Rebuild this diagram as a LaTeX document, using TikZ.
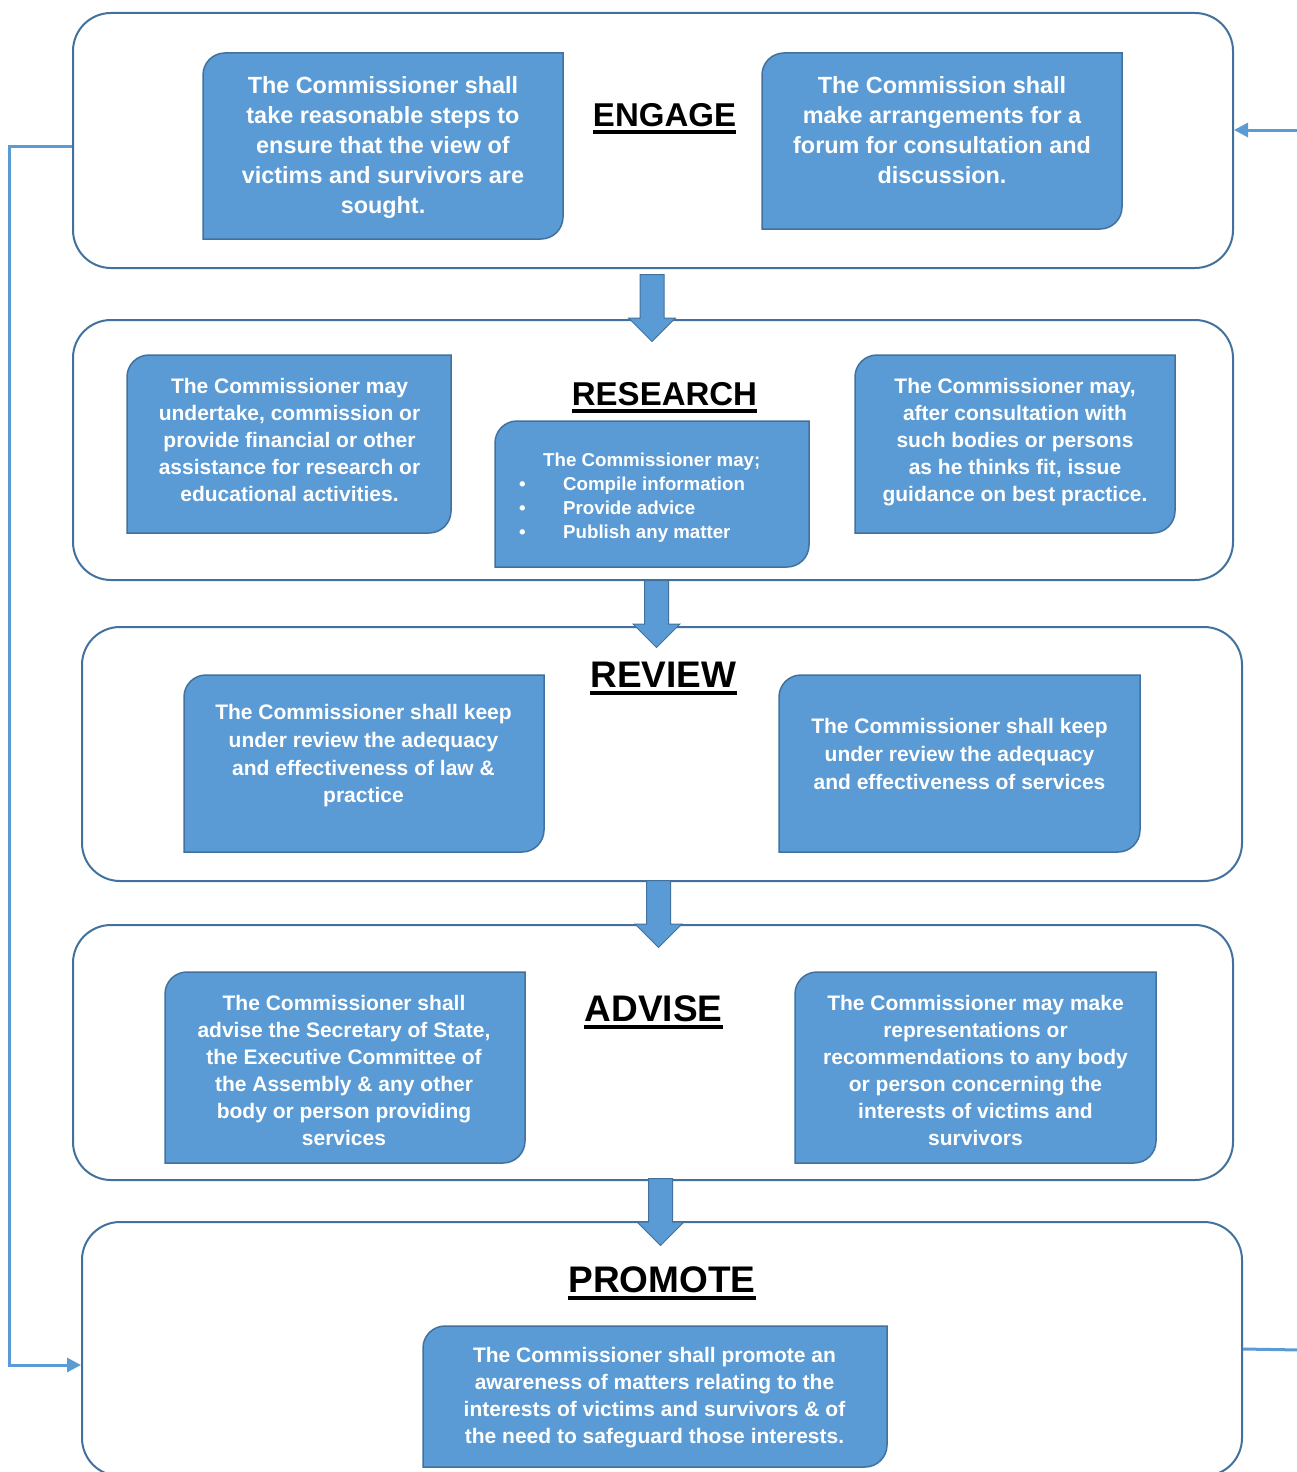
\documentclass[tikz,border=0pt]{standalone}
\usepackage{fontspec}
\setmainfont{Liberation Sans}
\usetikzlibrary{shapes.arrows,arrows.meta}
\definecolor{boxblue}{RGB}{91,155,213}
\definecolor{edgeblue}{RGB}{65,113,156}
\newcommand{\cornerbox}[4]{%
  \draw[bluebox] (#1,{(#2+#4)/2}) {[rounded corners=22pt] -- (#1,#2) -- ({(#1+#3)/2},#2)} -- (#3,#2) -- (#3,{(#2+#4)/2}) {[rounded corners=22pt] -- (#3,#4) -- ({(#1+#3)/2},#4)} -- (#1,#4) -- cycle;}

\begin{document}
\begin{tikzpicture}[x=1pt,y=-1pt,
  frame/.style={draw=edgeblue,line width=2pt,rounded corners=38pt,inner sep=0pt,minimum width=1160pt},
  bluebox/.style={fill=boxblue,draw=edgeblue,line width=1.5pt},
  boxtext/.style={text=white,align=center,inner sep=0pt,font=\bfseries\fontsize{21}{27}\selectfont},
  bigtext/.style={boxtext,font=\bfseries\fontsize{23.4}{30}\selectfont},
  smalltext/.style={boxtext,font=\bfseries\fontsize{18.7}{24}\selectfont},
  title/.style={anchor=base,inner sep=0pt,font=\bfseries\fontsize{33}{40}\selectfont},
  bigtitle/.style={title,font=\bfseries\fontsize{37}{44}\selectfont},
  uline/.style={line width=4pt},
  downarrow/.style={single arrow,shape border rotate=270,fill=boxblue,draw=edgeblue,line width=1pt,
    minimum height=67pt,minimum width=46pt,single arrow head extend=11.5pt,inner sep=11.5pt,anchor=tail},
  loopline/.style={draw=boxblue,line width=3pt},
  looptip/.style={-{Triangle[length=14pt,width=14pt]}}]
\useasboundingbox (0,0) rectangle (1296,1472);
\node[frame,minimum height=255pt] (engage) at (653,140.5) {};
\node[frame,minimum height=260pt] (research) at (653,450) {};
\node[frame,minimum height=254pt] (review) at (662,754) {};
\node[frame,minimum height=255pt] (advise) at (653,1052.5) {};
\node[frame,minimum height=254pt] (promote) at (662,1349) {};
\cornerbox{203}{53}{563}{239}
\cornerbox{762}{53}{1122}{229}
\cornerbox{127}{355}{451}{533}
\cornerbox{495}{421}{809}{567}
\cornerbox{855}{355}{1175}{533}
\cornerbox{184}{675}{544}{852}
\cornerbox{779}{675}{1140}{852}
\cornerbox{165}{972}{525}{1163}
\cornerbox{795}{972}{1156}{1163}
\cornerbox{423}{1326}{887}{1467}
\node[title] (engt) at (664.5,126.7) {ENGAGE};
\node[title] (rest) at (664.5,405) {RESEARCH};
\node[bigtitle] (revt) at (663.5,687.5) {REVIEW};
\node[bigtitle] (advt) at (653.5,1021.5) {ADVISE};
\node[bigtitle] (prot) at (662,1292.5) {PROMOTE};
\foreach \t in {engt,rest,revt,advt,prot}
  \draw[uline] ([yshift=-5.5pt]\t.base west) -- ([yshift=-5.5pt]\t.base east);
\node[bigtext] (eng1) at (383,147) {The Commissioner shall\\take reasonable steps to\\ensure that the view of\\victims and survivors are\\sought.};
\node[bigtext] (eng2) at (942,130) {The Commission shall\\make arrangements for a\\forum for consultation and\\discussion.};
\node[boxtext] (res1) at (289.5,439.5) {The Commissioner may\\undertake, commission or\\provide financial or other\\assistance for research or\\educational activities.};
\node[smalltext,align=left,anchor=west] (res2) at (519,498) {\hspace*{24pt}The Commissioner may;\\\makebox[44pt][l]{\textbullet}Compile information\\\makebox[44pt][l]{\textbullet}Provide advice\\\makebox[44pt][l]{\textbullet}Publish any matter};
\node[boxtext] (res3) at (1015,442.5) {The Commissioner may,\\after consultation with\\such bodies or persons\\as he thinks fit, issue\\guidance on best practice.};
\node[boxtext,font=\bfseries\fontsize{21}{27.7}\selectfont] (rev1) at (363.5,756) {The Commissioner shall keep\\under review the adequacy\\and effectiveness of law \&\\practice};
\node[boxtext,font=\bfseries\fontsize{21}{27.7}\selectfont] (rev2) at (959.5,754) {The Commissioner shall keep\\under review the adequacy\\and effectiveness of services};
\node[boxtext] (adv1) at (344,1070.5) {The Commissioner shall\\advise the Secretary of State,\\the Executive Committee of\\the Assembly \& any other\\body or person providing\\services};
\node[boxtext] (adv2) at (975.5,1070.5) {The Commissioner may make\\representations or\\recommendations to any body\\or person concerning the\\interests of victims and\\survivors};
\node[boxtext] (pro1) at (654.5,1398) {The Commissioner shall promote an\\awareness of matters relating to the\\interests of victims and survivors \& of\\the need to safeguard those interests.};
\node[downarrow] (a1) at (652,274) {};
\node[downarrow] (a2) at (656.5,580) {};
\node[downarrow] (a3) at (658.5,880) {};
\node[downarrow] (a4) at (660.5,1178) {};
\coordinate (rin) at (1300,130);
\coordinate (rout) at (1300,1350);
\draw[loopline,looptip] ([yshift=-5.5pt]engage.west) -- ++(-63,0) |- ([yshift=-16pt]promote.west);
\draw[loopline] (promote.east) -- (rout);
\draw[loopline,looptip] (rin) -- ([yshift=10.5pt]engage.east);
\end{tikzpicture}
\end{document}
